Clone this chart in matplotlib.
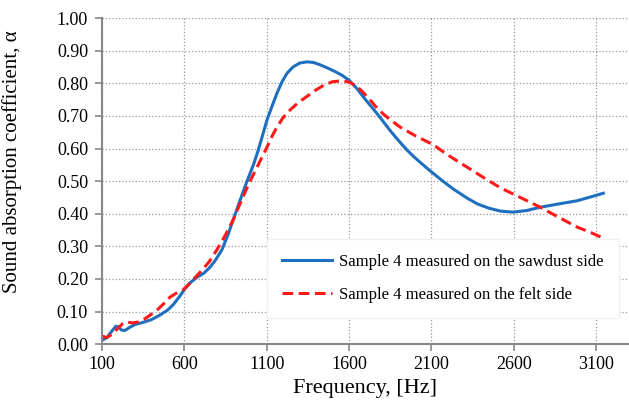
import numpy as np
import matplotlib
matplotlib.use('Agg')
import matplotlib.pyplot as plt

# values
freq_sawdust = [100, 130, 160, 185, 200, 220, 240, 270, 300, 350, 400, 452, 500, 531,
                570, 604, 640, 677, 720, 756, 790, 829, 865, 896, 938, 981, 1020, 1048,
                1075, 1102, 1133, 1163, 1194, 1224, 1260, 1300, 1345, 1385, 1424, 1470,
                1520, 1560, 1600, 1650, 1700, 1750, 1800, 1850, 1900, 1953, 2000, 2050,
                2111, 2170, 2230, 2317, 2380, 2450, 2520, 2597, 2680, 2761, 2850, 2986,
                3070, 3144]
alpha_sawdust = [0.012, 0.02, 0.04, 0.055, 0.053, 0.043, 0.042, 0.052, 0.06, 0.067,
                 0.075, 0.089, 0.105, 0.12, 0.145, 0.17, 0.19, 0.205, 0.218, 0.236,
                 0.258, 0.29, 0.335, 0.38, 0.44, 0.5, 0.55, 0.593, 0.64, 0.687, 0.73,
                 0.77, 0.805, 0.831, 0.85, 0.862, 0.866, 0.864, 0.857, 0.847, 0.835,
                 0.824, 0.81, 0.783, 0.75, 0.72, 0.688, 0.655, 0.625, 0.595, 0.572,
                 0.55, 0.524, 0.5, 0.477, 0.448, 0.43, 0.417, 0.408, 0.405, 0.41, 0.42,
                 0.428, 0.44, 0.452, 0.463]

freq_felt = [100, 130, 160, 200, 228, 250, 288, 320, 349, 390, 434, 475, 513, 550, 592,
             640, 695, 750, 799, 850, 896, 938, 990, 1042, 1102, 1130, 1163, 1200, 1242,
             1290, 1345, 1400, 1450, 1500, 1564, 1610, 1660, 1710, 1760, 1810, 1860,
             1910, 2000, 2111, 2200, 2317, 2420, 2518, 2640, 2761, 2870, 2986, 3070, 3144]
alpha_felt = [0.025, 0.02, 0.03, 0.05, 0.064, 0.068, 0.065, 0.068, 0.074, 0.088, 0.104,
              0.124, 0.144, 0.156, 0.166, 0.19, 0.22, 0.252, 0.29, 0.335, 0.38, 0.43,
              0.49, 0.543, 0.604, 0.635, 0.666, 0.695, 0.718, 0.74, 0.76, 0.78, 0.795,
              0.805, 0.808, 0.802, 0.785, 0.76, 0.73, 0.705, 0.685, 0.666, 0.64, 0.612,
              0.58, 0.543, 0.51, 0.48, 0.45, 0.42, 0.39, 0.359, 0.342, 0.325]

x_ticks = [100, 600, 1100, 1600, 2100, 2600, 3100]
y_ticks = np.arange(0, 1.01, 0.1)

plt.rcParams['font.family'] = ['Liberation Serif', 'DejaVu Serif']

fig = plt.figure(figsize=(6.29, 4.03), dpi=100)
ax = fig.add_axes([0.162, 0.146, 0.838, 0.809])

ax.plot(freq_sawdust, alpha_sawdust, color='#1f6fc0', lw=2.2,
        label='Sample 4 measured on the sawdust side', solid_joinstyle='round')
ax.plot(freq_felt, alpha_felt, color='#ff1a1a', lw=2.2, ls=(0, (3.5, 1.8)),
        label='Sample 4 measured on the felt side')

ax.set_xlim(100, 3300)
ax.set_ylim(0, 1.0)
ax.set_xticks(x_ticks)
ax.set_yticks(y_ticks)
ax.set_yticklabels([f'{v:.2f}' for v in y_ticks])
ax.tick_params(labelsize=13, color='#888888', length=5, width=1.2)
ax.tick_params(axis='y', pad=5)
ax.grid(True, color='#999999', ls=':', lw=0.9)
for s in ['top', 'right']:
    ax.spines[s].set_visible(False)
for s in ['left', 'bottom']:
    ax.spines[s].set_color('#888888')
    ax.spines[s].set_linewidth(1.5)

ax.set_xlabel('Frequency, [Hz]', fontsize=16)
ax.set_ylabel('Sound absorption coefficient, α', fontsize=15)
ax.yaxis.set_label_coords(-0.152, 0.561)

leg = ax.legend(loc='center', bbox_to_anchor=(0.647, 0.201), fontsize=12,
                frameon=True, fancybox=False, edgecolor='#f0f0f0', framealpha=1,
                handlelength=3.0, handletextpad=0.4, labelspacing=1.0, borderpad=0.9)

fig.savefig('out.png', dpi=100)
